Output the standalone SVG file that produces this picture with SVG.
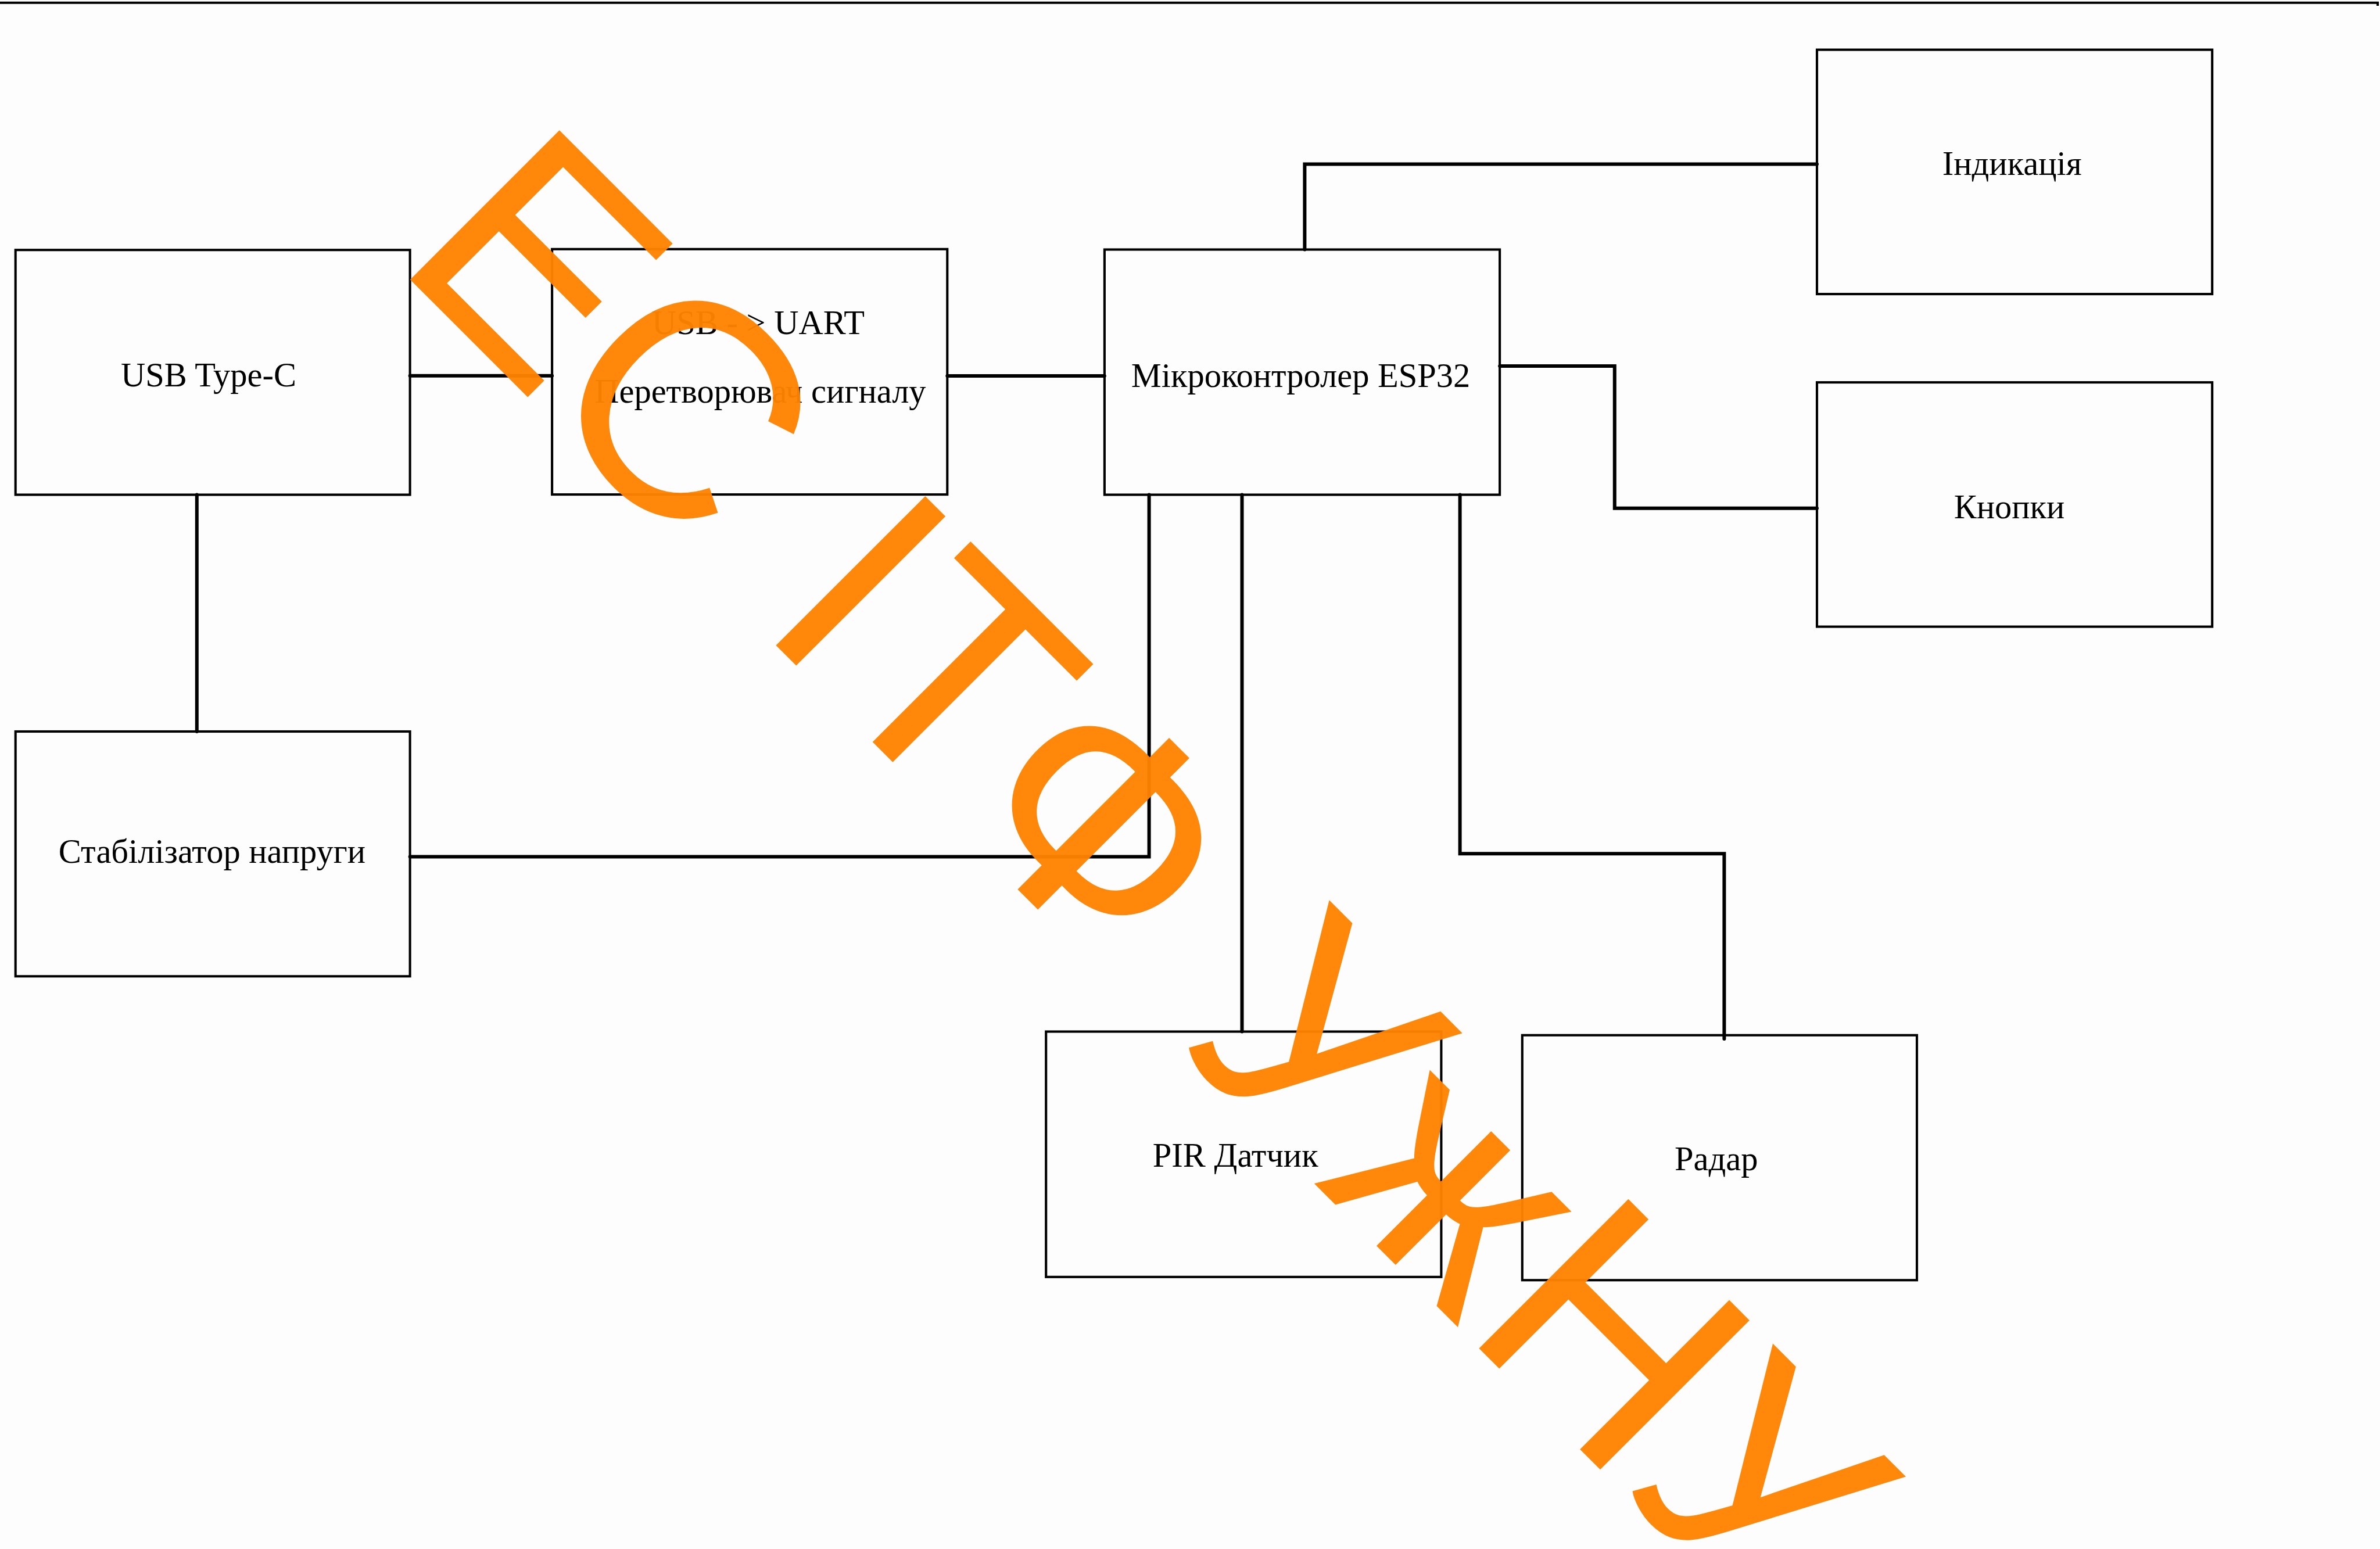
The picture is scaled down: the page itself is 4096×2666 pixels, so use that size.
<svg xmlns="http://www.w3.org/2000/svg" width="4096" height="2666" viewBox="0 0 4096 2666">
<style>
.box{fill:none;stroke:#000;stroke-width:4.1}
.lbl{font-family:"Liberation Serif","Times New Roman",serif;font-size:58.5px;fill:#000;text-anchor:middle}
.wire{fill:none;stroke:#000;stroke-width:6;stroke-linecap:round;stroke-linejoin:miter}
.wm{font-family:"Liberation Sans",Arial,sans-serif;font-size:528px;fill:#ff8300;fill-opacity:0.96}
</style>
<rect x="0" y="0" width="4096" height="2666" fill="#fdfdfd"/>
<path d="M0 4.8 H4092 V10" fill="none" stroke="#000" stroke-width="4.1"/>
<g id="connectors">
<path class="wire" d="M705.6 646.8 H950.1"/>
<path class="wire" d="M1630.3 647 H1900.9"/>
<path class="wire" d="M338.8 851.5 V1259"/>
<path class="wire" d="M705.6 1474.5 H1977.6 V851.5"/>
<path class="wire" d="M2137.5 851.5 V1775.5"/>
<path class="wire" d="M2512.6 851.5 V1469.3 H2967.4 V1788"/>
<path class="wire" d="M2245.4 429.5 V282.6 H3127"/>
<path class="wire" d="M2581.1 630 H2778.8 V874.8 H3127"/>
</g>
<g id="usb-type-c">
<rect class="box" x="26.7" y="430.2" width="678.9" height="421.3"/>
<text class="lbl" x="359" y="665">USB Type-C</text>
</g>
<g id="stabilizer">
<rect class="box" x="26.7" y="1259" width="678.9" height="421.3"/>
<text class="lbl" x="365" y="1485">Стабілізатор напруги</text>
</g>
<g id="usb-uart">
<rect class="box" x="950.1" y="428.8" width="680.2" height="422.3"/>
<text class="lbl" x="1305" y="574.7">USB - &gt; UART</text>
<text class="lbl" x="1308.4" y="692.5">Перетворювач сигналу</text>
</g>
<g id="esp32">
<rect class="box" x="1900.9" y="429.5" width="680.2" height="422"/>
<text class="lbl" x="2238.6" y="665.8">Мікроконтролер ESP32</text>
</g>
<g id="indication">
<rect class="box" x="3127" y="85.6" width="680.2" height="420.5"/>
<text class="lbl" x="3462.7" y="301.4">Індикація</text>
</g>
<g id="buttons">
<rect class="box" x="3127" y="658.1" width="680.2" height="420.5"/>
<text class="lbl" x="3458" y="892">Кнопки</text>
</g>
<g id="pir">
<rect class="box" x="1800.2" y="1775.5" width="680.2" height="422.3"/>
<text class="lbl" x="2126.2" y="2008.4">PIR Датчик</text>
</g>
<g id="radar">
<rect class="box" x="2619.8" y="1781.7" width="679.2" height="421.6"/>
<text class="lbl" x="2953.7" y="2013.9">Радар</text>
</g>
<g id="watermark">
<text class="wm" transform="rotate(45)" y="-158.9" x="796 1136.4 1518 1681 1828.3 2144.7 2566 2698.9 3038 3397.6 3778.5">ЕС ІТФ УжНУ</text>
</g>
</svg>
